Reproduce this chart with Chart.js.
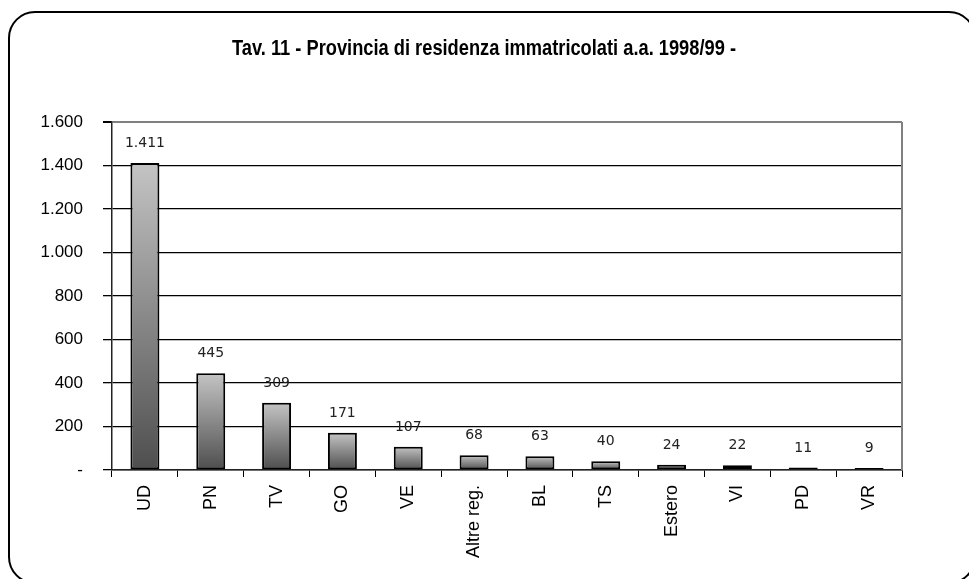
<!DOCTYPE html>
<html>
<head>
<meta charset="utf-8">
<script src="https://cdn.jsdelivr.net/npm/chart.js@4.4.0/dist/chart.umd.min.js"></script>
<style>
  html, body { margin: 0; padding: 0; background: #fff; overflow: hidden; }
  #wrap { position: relative; width: 969px; height: 579px; }
  #frame { position: absolute; left: 8px; top: 11px; width: 968px; height: 573px;
           border: 2px solid #000; border-radius: 27px; box-sizing: border-box; }
  canvas { position: absolute; left: 0; top: 0; }
</style>
</head>
<body>
<div id="wrap">
  <div id="frame"></div>
  <canvas id="chart" width="969" height="579"></canvas>
</div>
<script>
const categories = ['UD', 'PN', 'TV', 'GO', 'VE', 'Altre reg.', 'BL', 'TS', 'Estero', 'VI', 'PD', 'VR'];
const values = [1411, 445, 309, 171, 107, 68, 63, 40, 24, 22, 11, 9];
const yTicks = [0, 200, 400, 600, 800, 1000, 1200, 1400, 1600];
const title = 'Tav. 11 - Provincia di residenza immatricolati a.a. 1998/99 -';

// numeri all'italiana: punto per le migliaia, trattino per lo zero
function fmt(v) {
  if (v === 0) return '-';
  return String(v).replace(/\B(?=(\d{3})+(?!\d))/g, '.');
}

// sfumatura chiaro in alto -> scuro in basso, su ogni barra
function barFill(ctx) {
  const chart = ctx.chart;
  const y = chart.scales.y;
  if (!y || !chart.chartArea || ctx.type !== 'data') return '#999';
  const top = y.getPixelForValue(ctx.raw);
  const base = y.getPixelForValue(0);
  if (!isFinite(top) || base - top < 1) return '#777';
  const g = chart.ctx.createLinearGradient(0, top, 0, base);
  g.addColorStop(0, '#c4c4c4');
  g.addColorStop(1, '#4e4e4e');
  return g;
}

const valueLabels = {
  id: 'valueLabels',
  afterDatasetsDraw(chart) {
    const c = chart.ctx;
    const meta = chart.getDatasetMeta(0);
    c.save();
    c.font = '14px "DejaVu Sans"';
    c.fillStyle = '#222';
    c.textAlign = 'center';
    c.textBaseline = 'alphabetic';
    meta.data.forEach((bar, i) => {
      c.fillText(fmt(values[i]), bar.x, bar.y - 16);
    });
    c.restore();
  }
};

// titolo centrato sulla pagina, compresso in larghezza come un Arial Narrow
const narrowTitle = {
  id: 'narrowTitle',
  afterDraw(chart) {
    const c = chart.ctx;
    c.save();
    c.font = 'bold 22px "Liberation Sans", Arial';
    c.fillStyle = '#000';
    c.textAlign = 'center';
    c.textBaseline = 'alphabetic';
    const w = c.measureText(title).width;
    const sx = 504 / w;
    c.translate(484, 55);
    c.scale(sx, 1);
    c.fillText(title, 0, 0);
    c.restore();
  }
};

const plotFrame = {
  id: 'plotFrame',
  beforeDatasetsDraw(chart) {
    const a = chart.chartArea;
    const c = chart.ctx;
    c.save();
    c.strokeStyle = '#808080';
    c.lineWidth = 2;
    c.beginPath();
    c.moveTo(a.right, a.top);
    c.lineTo(a.right, a.bottom);
    c.stroke();
    c.restore();
  }
};

new Chart(document.getElementById('chart'), {
  type: 'bar',
  data: {
    labels: categories,
    datasets: [{
      data: values,
      backgroundColor: barFill,
      borderColor: '#000',
      borderWidth: 2,
      borderSkipped: false,
      barPercentage: 0.44,
      categoryPercentage: 1
    }]
  },
  options: {
    responsive: false,
    animation: false,
    layout: { padding: { left: 0, right: 67, top: 122, bottom: 0 } },
    plugins: {
      legend: { display: false },
      tooltip: { enabled: false },
      title: { display: false }
    },
    scales: {
      x: {
        afterFit: s => { s.height = 109; },
        border: { color: '#222', width: 1.5 },
        grid: { offset: true, drawOnChartArea: false, tickLength: 7, color: '#000' },
        ticks: {
          minRotation: 90, maxRotation: 90, padding: 8, color: '#000',
          font: { family: '"Liberation Sans", Arial', size: 18 }
        }
      },
      y: {
        min: 0, max: 1600,
        afterFit: s => { s.width = 112; },
        afterBuildTicks: s => { s.ticks = yTicks.map(v => ({ value: v })); },
        border: { color: '#222', width: 1.5 },
        grid: {
          color: c => (c.tick && c.tick.value === 1600 ? '#808080' : '#000'),
          lineWidth: c => (c.tick && c.tick.value === 1600 ? 2 : 1.3),
          tickColor: '#000',
          tickLength: 9
        },
        ticks: {
          padding: 20, color: '#000',
          font: { family: '"Liberation Sans", Arial', size: 17 },
          callback: v => fmt(v)
        }
      }
    }
  },
  plugins: [valueLabels, narrowTitle, plotFrame]
});
</script>
</body>
</html>
